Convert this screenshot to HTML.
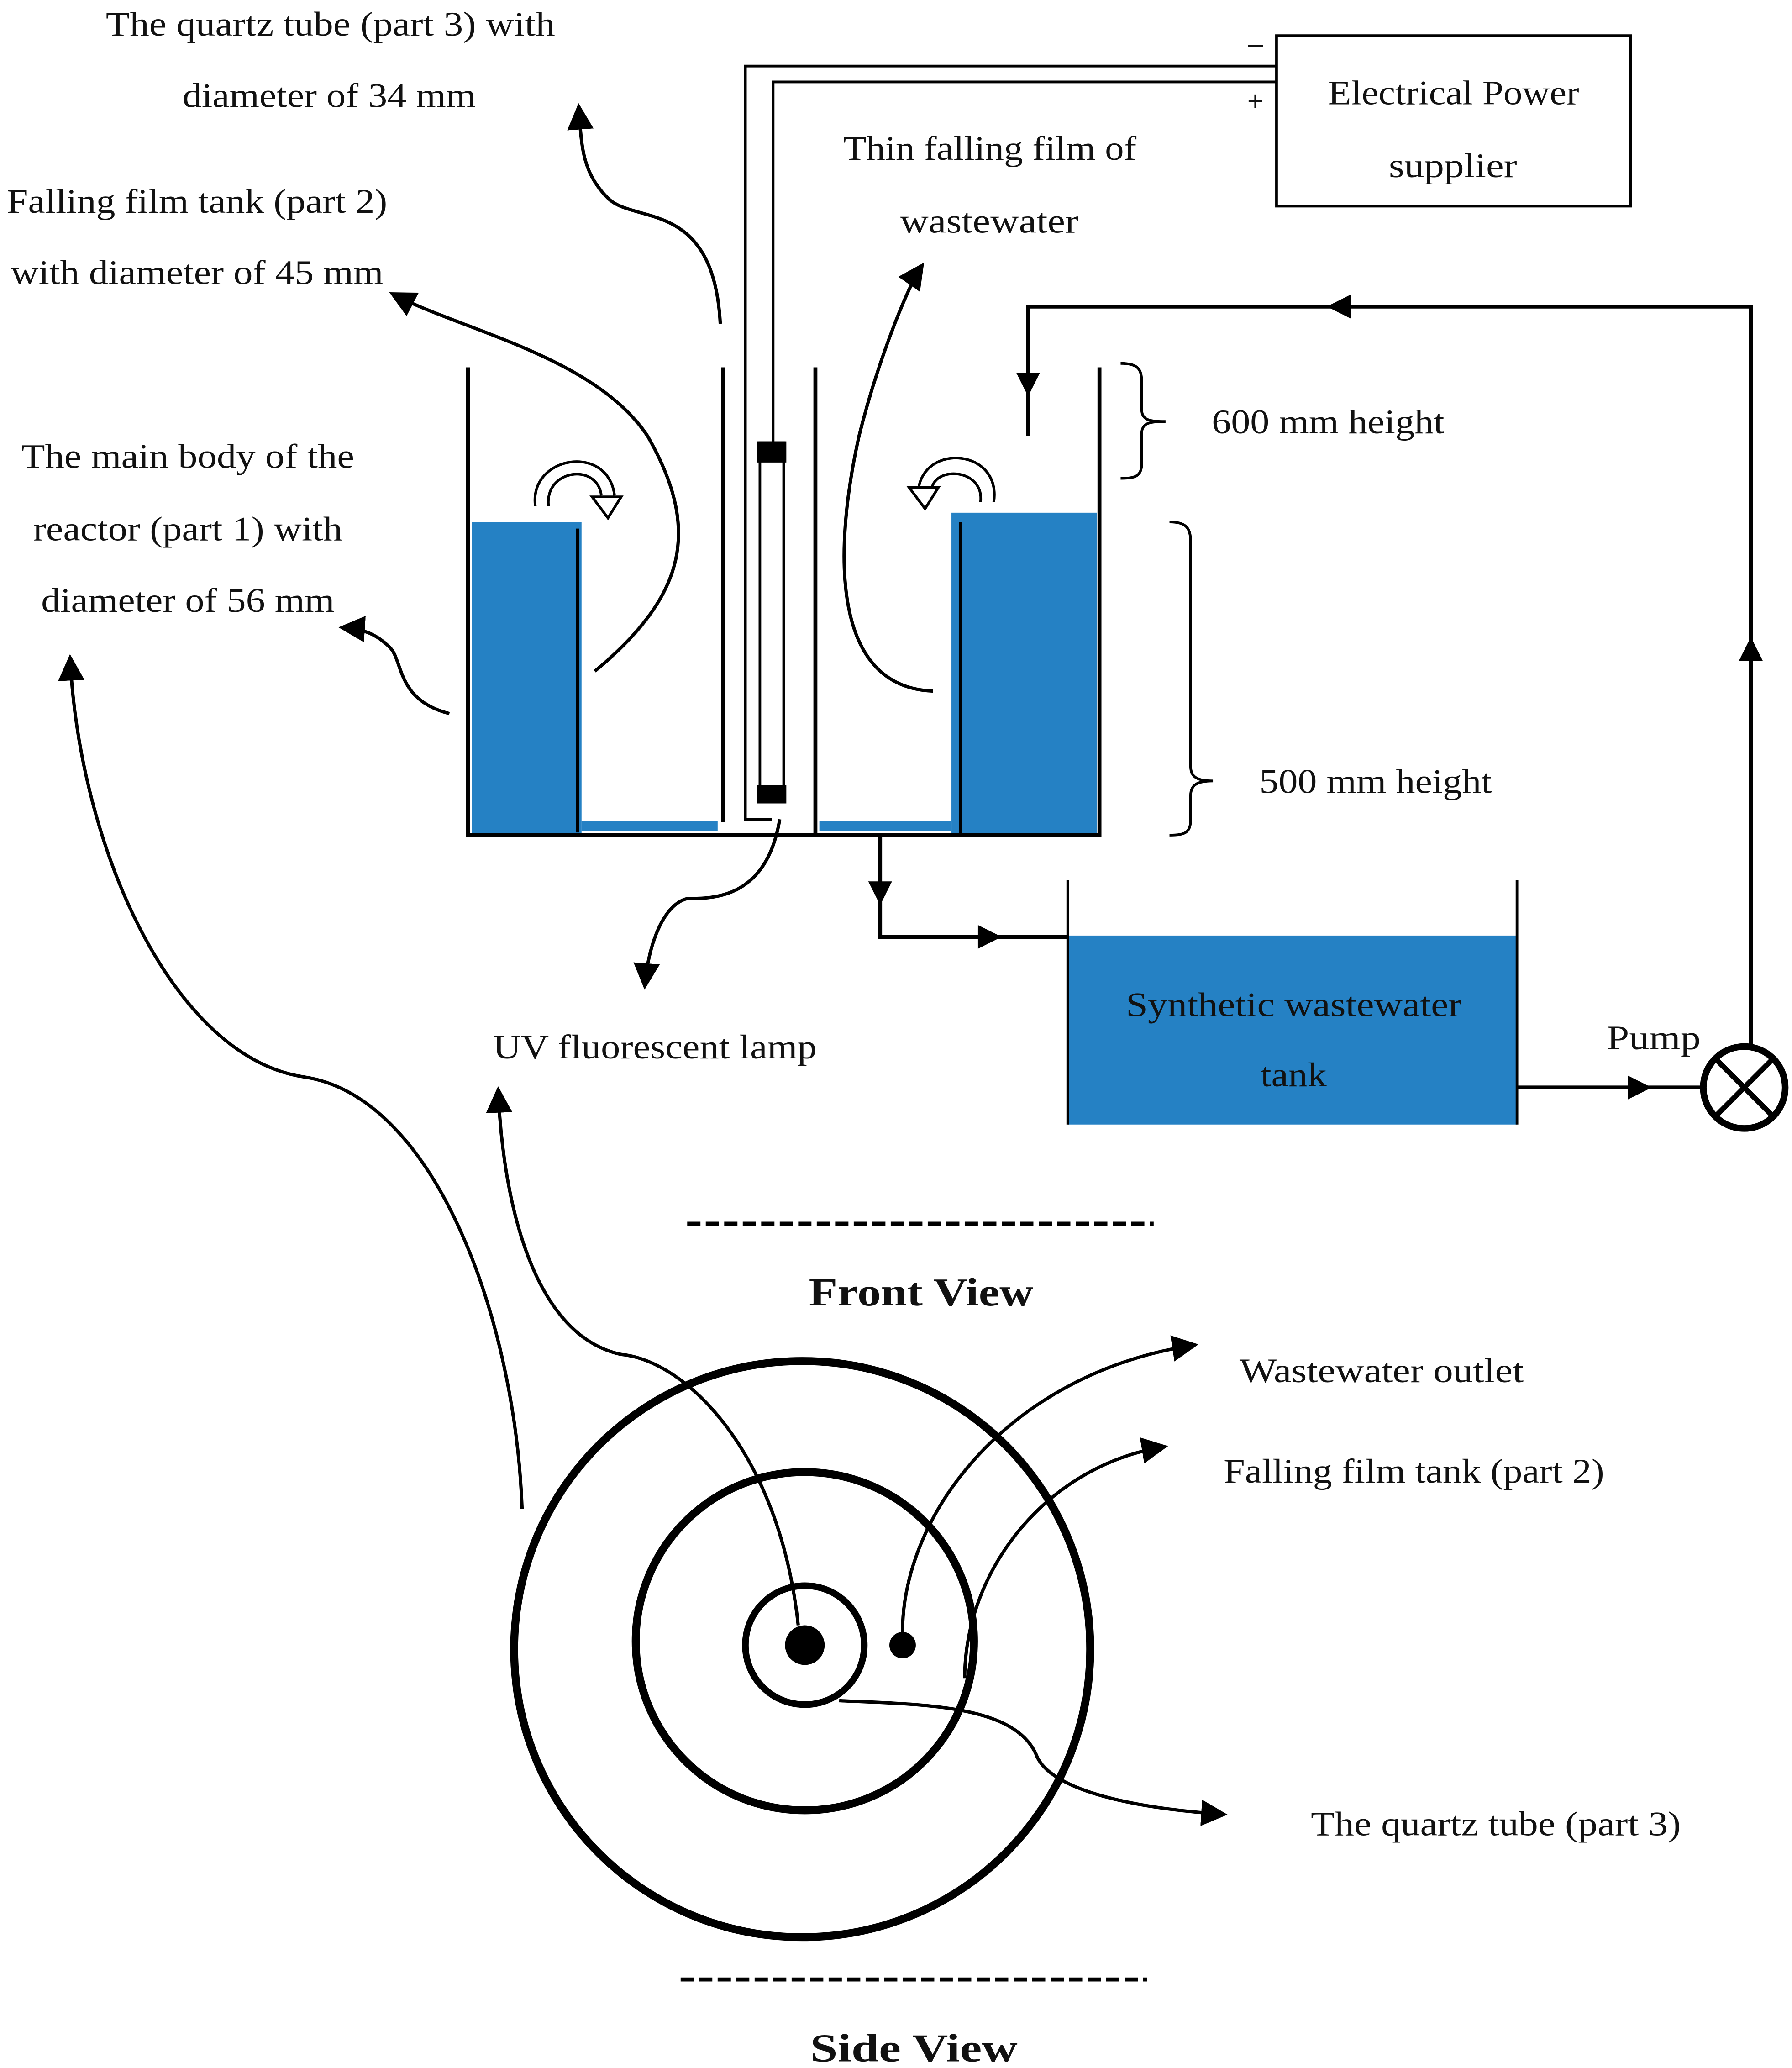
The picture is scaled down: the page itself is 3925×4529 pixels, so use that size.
<!DOCTYPE html>
<html><head><meta charset="utf-8"><style>
html,body{margin:0;padding:0;background:#fff;}
svg{display:block;}
text{font-family:"Liberation Serif",serif;font-size:26px;fill:#111;}
</style></head><body>
<svg width="3925" height="4529" viewBox="0 0 1356 1565" xmlns="http://www.w3.org/2000/svg">
<defs>
<marker id="ar" viewBox="0 0 10 10" refX="8" refY="5" markerWidth="20" markerHeight="20" orient="auto" markerUnits="userSpaceOnUse"><path d="M0,0 L10,5 L0,10 z" fill="#000"/></marker>
</defs>
<rect width="1356" height="1565" fill="#fff"/>
<g fill="none" stroke="#000" stroke-width="2.5">
<path d="M545,245 C540,150 480,170 460,150 C440,130 440,110 438,82" marker-end="url(#ar)"/>
<path d="M450,508 C520,450 530,400 490,330 C450,270 350,250 298,223" marker-end="url(#ar)"/>
<path d="M340,540 C300,530 305,500 295,490 C285,480 275,476 260,475" marker-end="url(#ar)"/>
<path d="M706,523 C630,520 630,420 650,330 C665,270 688,215 697,202" marker-end="url(#ar)"/>
<path d="M590,620 C580,680 540,680 520,680 C500,685 490,720 488,745" marker-end="url(#ar)"/>
<path d="M395,1142 C390,1000 330,830 230,815 C130,800 60,640 53,499" marker-end="url(#ar)"/>
<path d="M604,1230 C590,1100 520,1030 470,1025 C400,1010 380,900 377,826" marker-end="url(#ar)"/>
<path d="M683,1240 C680,1150 760,1040 903,1018" marker-end="url(#ar)"/>
<path d="M730,1270 C730,1190 790,1110 880,1095" marker-end="url(#ar)"/>
<path d="M635,1287 C700,1290 770,1290 785,1330 C800,1360 880,1370 925,1373" marker-end="url(#ar)"/>
<rect x="966" y="27" width="268" height="129" stroke-width="2"/>
<path d="M966,50 H564 V620 H584" stroke-width="2"/>
<path d="M966,62 H585 V335" stroke-width="2"/>
</g>
<rect x="575" y="335" width="18" height="272" fill="#fff" stroke="#000" stroke-width="2"/>
<rect x="573" y="334" width="22" height="16" fill="#000"/>
<rect x="573" y="594" width="22" height="14" fill="#000"/>
<rect x="357" y="395" width="83" height="237" fill="#2581c4"/>
<rect x="440" y="621" width="103" height="8" fill="#2581c4"/>
<rect x="720" y="388" width="110" height="244" fill="#2581c4"/>
<rect x="620" y="621" width="100" height="8" fill="#2581c4"/>
<rect x="808" y="708" width="340" height="143" fill="#2581c4"/>
<g fill="none" stroke="#000" stroke-width="3">
<path d="M354,278 V632 H832 V278"/>
<path d="M547,278 V622"/>
<path d="M617,278 V632"/>
<path d="M437,400 V630" stroke-width="2.5"/>
<path d="M727,395 V632" stroke-width="2.5"/>
<path d="M848,275 C862,275 864,280 864,290 V310 C864,318 870,319 882,319 C870,319 864,320 864,328 V350 C864,360 860,362 848,362" stroke-width="2"/>
<path d="M885,395 C898,395 901,400 901,410 V580 C901,588 906,591 918,591 C906,591 901,594 901,602 V620 C901,630 897,632 885,632" stroke-width="2"/>
<path d="M1325,790 V232 H778 V330" stroke-width="3"/>
<path d="M666,632 V709 H808"/>
<path d="M808,666 V851 M1148,666 V851" stroke-width="2"/>
<path d="M1148,823 H1289"/>
<circle cx="1320" cy="823" r="31" stroke-width="5"/>
<path d="M1298,801 L1342,845 M1342,801 L1298,845" stroke-width="4"/>
<circle cx="607" cy="1248" r="218" stroke-width="6"/>
<circle cx="609" cy="1242" r="128" stroke-width="6"/>
<circle cx="609" cy="1245" r="45" stroke-width="5"/>
<path d="M520,926 H873 M515,1498 H868" stroke-dasharray="10,4" stroke-width="3"/>
<path d="M405,383 C400,345 460,335 465,375" stroke-width="2"/>
<path d="M415,383 C412,355 452,350 455,375" stroke-width="2"/>
<path d="M752,380 C758,340 700,335 695,370" stroke-width="2"/>
<path d="M742,380 C745,355 708,352 705,370" stroke-width="2"/>
</g>
<circle cx="609" cy="1245" r="15" fill="#000"/>
<circle cx="683" cy="1245" r="10" fill="#000"/>
<g fill="#000">
<path d="M1325,482 l-9,18 h18 z"/>
<path d="M1004,232 l18,-9 v18 z"/>
<path d="M778,300 l-9,-18 h18 z"/>
<path d="M666,685 l-9,-18 h18 z"/>
<path d="M758,709 l-18,-9 v18 z"/>
<path d="M1250,823 l-18,-9 v18 z"/>
<path d="M460,392 l-12,-16 h22 z" fill="#fff" stroke="#000" stroke-width="2"/>
<path d="M700,385 l-12,-16 h22 z" fill="#fff" stroke="#000" stroke-width="2"/>
</g>
<text x="950" y="40" text-anchor="middle" style="font-size:22px;font-weight:bold">–</text>
<text x="950" y="84" text-anchor="middle" style="font-size:22px;font-weight:bold">+</text>
<g lengthAdjust="spacingAndGlyphs">
<text x="80" y="27" textLength="340" lengthAdjust="spacingAndGlyphs">The quartz tube (part 3) with</text>
<text x="138" y="81" textLength="222" lengthAdjust="spacingAndGlyphs">diameter of 34 mm</text>
<text x="5" y="161" textLength="288" lengthAdjust="spacingAndGlyphs">Falling film tank (part 2)</text>
<text x="8" y="215" textLength="282" lengthAdjust="spacingAndGlyphs">with diameter of 45 mm</text>
<text x="16" y="354" textLength="252" lengthAdjust="spacingAndGlyphs">The main body of the</text>
<text x="25" y="409" textLength="234" lengthAdjust="spacingAndGlyphs">reactor (part 1) with</text>
<text x="31" y="463" textLength="222" lengthAdjust="spacingAndGlyphs">diameter of 56 mm</text>
<text x="638" y="121" textLength="222" lengthAdjust="spacingAndGlyphs">Thin falling film of</text>
<text x="681" y="176" textLength="135" lengthAdjust="spacingAndGlyphs">wastewater</text>
<text x="1005" y="79" textLength="190" lengthAdjust="spacingAndGlyphs">Electrical Power</text>
<text x="1051" y="134" textLength="97" lengthAdjust="spacingAndGlyphs">supplier</text>
<text x="852" y="769" textLength="254" lengthAdjust="spacingAndGlyphs">Synthetic wastewater</text>
<text x="954" y="822" textLength="50" lengthAdjust="spacingAndGlyphs">tank</text>
<text x="373" y="801" textLength="245" lengthAdjust="spacingAndGlyphs">UV fluorescent lamp</text>
<text x="612" y="988" textLength="170" lengthAdjust="spacingAndGlyphs" style="font-weight:bold;font-size:30px">Front View</text>
<text x="613" y="1560" textLength="157" lengthAdjust="spacingAndGlyphs" style="font-weight:bold;font-size:30px">Side View</text>
<text x="917" y="328" textLength="176" lengthAdjust="spacingAndGlyphs">600 mm height</text>
<text x="953" y="600" textLength="176" lengthAdjust="spacingAndGlyphs">500 mm height</text>
<text x="1216" y="794" textLength="71" lengthAdjust="spacingAndGlyphs">Pump</text>
<text x="938" y="1046" textLength="215" lengthAdjust="spacingAndGlyphs">Wastewater outlet</text>
<text x="926" y="1122" textLength="288" lengthAdjust="spacingAndGlyphs">Falling film tank (part 2)</text>
<text x="992" y="1389" textLength="280" lengthAdjust="spacingAndGlyphs">The quartz tube (part 3)</text>
</g>
</svg>
</body></html>
